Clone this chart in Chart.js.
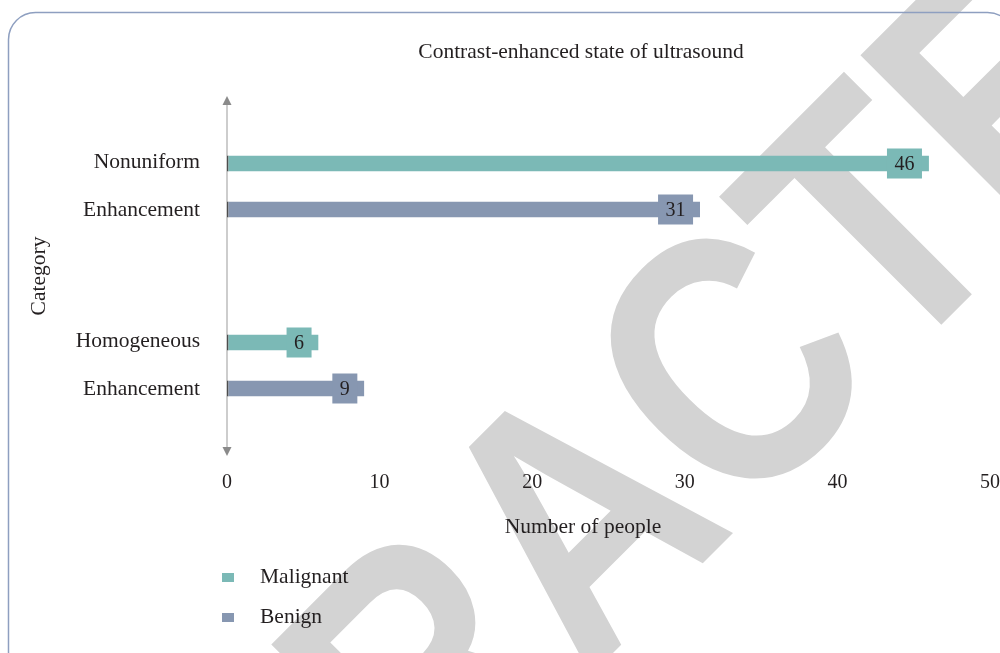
<!DOCTYPE html>
<html lang="en">
  <head>
    <meta charset="UTF-8" />
    <title>Contrast-enhanced state of ultrasound</title>
    <script src="https://cdn.jsdelivr.net/npm/chart.js@4.4.1/dist/chart.umd.min.js"></script>
    <style>
      html, body { margin: 0; padding: 0; background: #fff; }
      #wrap { position: relative; width: 1000px; height: 653px; overflow: hidden; }
    </style>
  </head>
  <body>
    <div id="wrap"><canvas id="chart"></canvas></div>

    <script>
      // data
      const categories = [["Nonuniform", "Enhancement"], ["Homogeneous", "Enhancement"]];
      const seriesNames = ["Malignant", "Benign"];
      const malignant = [46, 6];
      const benign = [31, 9];
      const xMin = 0;
      const xMax = 50;
      const xStep = 10;

      const chartTitle = "Contrast-enhanced state of ultrasound";
      const xTitle = "Number of people";
      const yTitle = "Category";
      const watermark = "RETRACTED";

      const colors = ["#7bb9b6", "#8797b1"];
      const serif = "'Liberation Serif', 'DejaVu Serif', serif";
      const textColor = "#231f20";
      const wordFont = "21.5px " + serif;
      const numFont = "20px " + serif;

      Chart.defaults.font.family = serif;
      Chart.defaults.color = textColor;

      // grey watermark and the rounded frame go under everything else
      const backdrop = {
        id: "backdrop",
        beforeDraw(chart) {
          const ctx = chart.ctx;
          ctx.save();
          ctx.translate(662, 604);
          ctx.rotate(-45 * Math.PI / 180);
          ctx.scale(1, 1.2);
          ctx.font = "bold 300px 'Liberation Sans', Arial, sans-serif";
          ctx.fillStyle = "#d3d3d3";
          ctx.textAlign = "center";
          ctx.textBaseline = "alphabetic";
          ctx.fillText(watermark, 0, 0);
          ctx.restore();

          ctx.save();
          ctx.strokeStyle = "#8e9fc0";
          ctx.lineWidth = 1.5;
          ctx.beginPath();
          ctx.roundRect(8.5, 12.5, 1006, 666, 27);
          ctx.stroke();
          ctx.restore();
        },
        // light y axis line with arrow heads, under the bars
        beforeDatasetsDraw(chart) {
          const ctx = chart.ctx;
          const area = chart.chartArea;
          const x0 = chart.scales.x.getPixelForValue(0);
          ctx.save();
          ctx.strokeStyle = "#bdbdbd";
          ctx.lineWidth = 1.5;
          ctx.beginPath();
          ctx.moveTo(x0, area.top + 4);
          ctx.lineTo(x0, area.bottom - 4);
          ctx.stroke();
          ctx.fillStyle = "#8a8a8a";
          ctx.beginPath();
          ctx.moveTo(x0, area.top - 1);
          ctx.lineTo(x0 - 4.5, area.top + 8);
          ctx.lineTo(x0 + 4.5, area.top + 8);
          ctx.closePath();
          ctx.fill();
          ctx.beginPath();
          ctx.moveTo(x0, area.bottom + 1);
          ctx.lineTo(x0 - 4.5, area.bottom - 8);
          ctx.lineTo(x0 + 4.5, area.bottom - 8);
          ctx.closePath();
          ctx.fill();
          ctx.restore();
        }
      };

      // value boxes, titles and legend
      const decor = {
        id: "decor",
        afterDatasetsDraw(chart) {
          const ctx = chart.ctx;
          ctx.save();
          ctx.font = numFont;
          ctx.textBaseline = "middle";
          ctx.textAlign = "center";
          chart.data.datasets.forEach((ds, di) => {
            const meta = chart.getDatasetMeta(di);
            meta.data.forEach((bar, i) => {
              const txt = String(ds.data[i]);
              const w = ctx.measureText(txt).width + 15;
              const right = bar.x - 7;
              ctx.fillStyle = ds.backgroundColor;
              ctx.fillRect(right - w, bar.y - 15, w, 30);
              ctx.fillStyle = textColor;
              ctx.fillText(txt, right - w / 2, bar.y + 1);
            });
          });
          ctx.restore();
        },
        afterDraw(chart) {
          const ctx = chart.ctx;
          ctx.save();
          ctx.fillStyle = textColor;
          ctx.font = wordFont;
          ctx.textBaseline = "middle";
          ctx.textAlign = "center";
          ctx.fillText(chartTitle, 581, 52);
          ctx.fillText(xTitle, 583, 527);

          ctx.textAlign = "left";
          chart.data.datasets.forEach((ds, i) => {
            const y = 577 + i * 40;
            ctx.fillStyle = ds.backgroundColor;
            ctx.fillRect(222, y - 4, 12, 9);
            ctx.fillStyle = textColor;
            ctx.fillText(ds.label, 260, y);
          });
          ctx.restore();
        }
      };

      new Chart(document.getElementById("chart"), {
        type: "bar",
        data: {
          labels: categories,
          datasets: [
            { label: seriesNames[0], data: malignant, backgroundColor: colors[0] },
            { label: seriesNames[1], data: benign, backgroundColor: colors[1] }
          ]
        },
        options: {
          indexAxis: "y",
          responsive: true,
          maintainAspectRatio: false,
          animation: false,
          categoryPercentage: 0.514,
          barPercentage: 0.35,
          borderSkipped: false,
          borderWidth: { left: 1.5, top: 0, right: 0, bottom: 0 },
          borderColor: "#4d4d4d",
          layout: { padding: { top: 97, right: 10, bottom: 0, left: 0 } },
          plugins: {
            legend: { display: false },
            title: { display: false },
            tooltip: { enabled: false }
          },
          scales: {
            x: {
              min: xMin,
              max: xMax,
              grid: { display: false, drawTicks: false },
              border: { display: false },
              ticks: { stepSize: xStep, padding: 16, font: { size: 20 }, color: textColor },
              afterFit(scale) {
                scale.height = 198;
                scale.paddingLeft = 0;
                scale.paddingRight = 0;
              }
            },
            y: {
              grid: { display: false, drawTicks: false },
              border: { display: false },
              ticks: {
                autoSkip: false,
                padding: 27,
                color: textColor,
                font: { size: 21.5, lineHeight: "48px" }
              },
              title: {
                display: true,
                text: yTitle,
                color: textColor,
                font: { size: 21.5 },
                padding: { top: 26, bottom: 0 }
              },
              afterFit(scale) { scale.width = 227; }
            }
          }
        },
        plugins: [backdrop, decor]
      });
    </script>
  </body>
</html>
